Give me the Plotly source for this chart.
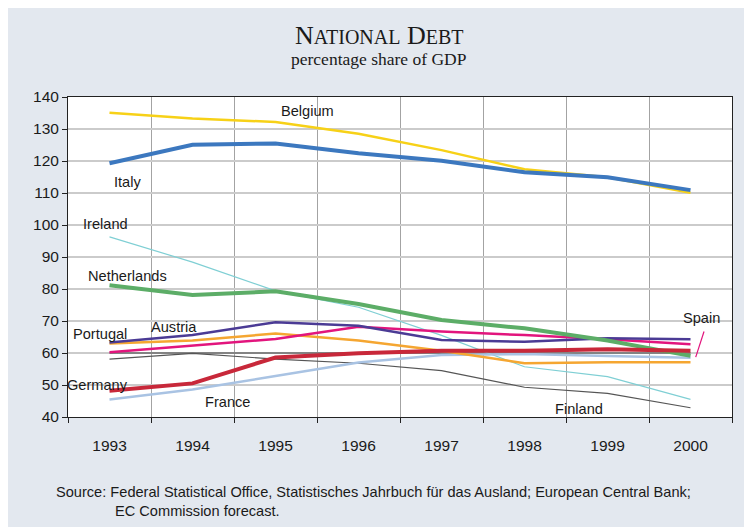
import plotly.graph_objects as go

years = ["1993", "1994", "1995", "1996", "1997", "1998", "1999", "2000"]
belgium = [135.1, 133.3, 132.2, 128.5, 123.4, 117.4, 114.9, 110.1]
italy = [119.3, 125.1, 125.5, 122.4, 120.1, 116.5, 114.9, 110.9]
ireland = [96.3, 88.4, 79.4, 74.3, 65.5, 55.7, 52.6, 45.5]
netherlands = [81.2, 78.1, 79.3, 75.3, 70.3, 67.7, 63.9, 59.1]
austria = [63.3, 65.6, 69.6, 68.5, 64.1, 63.5, 64.6, 64.3]
portugal = [63.0, 63.9, 66.1, 63.9, 60.7, 56.8, 57.1, 57.1]
spain = [60.2, 62.2, 64.4, 68.2, 66.7, 65.6, 64.3, 62.7]
germany = [48.2, 50.5, 58.6, 59.9, 60.7, 60.7, 61.2, 60.7]
france = [45.5, 48.6, 52.8, 57.0, 59.4, 59.7, 59.1, 58.5]
finland = [58.1, 59.9, 58.1, 56.8, 54.5, 49.3, 47.4, 42.9]
reference = [60, 60, 60, 60, 60, 60, 60, 60]

xi = list(range(len(years)))

series = [
    ("Reference", reference, "#3c3c3c", 1.2),
    ("Finland", finland, "#555555", 1.2),
    ("Ireland", ireland, "#7fcfd4", 1.2),
    ("France", france, "#a9c3e3", 2.5),
    ("Portugal", portugal, "#f5a631", 2.5),
    ("Spain", spain, "#e2157d", 2.5),
    ("Austria", austria, "#4b3b95", 2.5),
    ("Belgium", belgium, "#f7d117", 2.5),
    ("Netherlands", netherlands, "#5cad67", 4),
    ("Germany", germany, "#c8283a", 4),
    ("Italy", italy, "#3c78bf", 4),
]

fig = go.Figure()
for name, vals, col, w in series:
    fig.add_trace(go.Scatter(x=xi, y=vals, mode="lines", name=name,
                             line=dict(color=col, width=w), showlegend=False))

FONT = "Liberation Sans, Arial, sans-serif"
SERIF = "Liberation Serif, Times New Roman, serif"
labels = [
    ("Belgium", 2.38, 135.6),
    ("Italy", 0.22, 113.5),
    ("Ireland", -0.05, 100.3),
    ("Netherlands", 0.22, 84.2),
    ("Portugal", -0.12, 65.8),
    ("Austria", 0.78, 68.2),
    ("Germany", -0.14, 50.1),
    ("France", 1.42, 44.8),
    ("Finland", 5.66, 42.6),
    ("Spain", 7.13, 70.8),
]
ann = []
for t, x, y in labels:
    ann.append(dict(x=x, y=y, xref="x", yref="y", text=t, showarrow=False,
                    font=dict(family=FONT, size=14.6, color="#1a1a1a")))

ann.append(dict(x=(379 - 68) / 664, xref="paper", y=(417 - 36) / 320, yref="paper",
                text="N<span style='font-size:20px'>ATIONAL</span> D<span style='font-size:20px'>EBT</span>",
                showarrow=False, yanchor="middle",
                font=dict(family=SERIF, size=26, color="#1a1a1a")))
ann.append(dict(x=(379 - 68) / 664, xref="paper", y=(417 - 59) / 320, yref="paper",
                text="percentage share of GDP", showarrow=False, yanchor="middle",
                font=dict(family=SERIF, size=17.5, color="#1a1a1a")))
ann.append(dict(x=(54 - 68) / 664, xref="paper", y=(417 - 492) / 320, yref="paper",
                text="Source: Federal Statistical Office, Statistisches Jahrbuch für das Ausland; European Central Bank;",
                showarrow=False, xanchor="left", yanchor="middle",
                font=dict(family=FONT, size=14.6, color="#1a1a1a")))
ann.append(dict(x=(113 - 68) / 664, xref="paper", y=(417 - 511) / 320, yref="paper",
                text="EC Commission forecast.",
                showarrow=False, xanchor="left", yanchor="middle",
                font=dict(family=FONT, size=14.6, color="#1a1a1a")))

shapes = [
    dict(type="line", xref="x", yref="y", x0=7.163, x1=7.063, y0=66.7, y1=58.7,
         line=dict(color="#e2157d", width=1.2)),
]

fig.update_layout(
    width=752, height=527,
    margin=dict(l=60, r=28, t=89, b=118),
    paper_bgcolor="#e3e8ef",
    plot_bgcolor="white",
    annotations=ann,
    shapes=shapes,
    xaxis=dict(range=[-0.5, 7.5], tickmode="array", tickvals=xi, ticktext=years,
               ticks="outside", ticklen=14, tickcolor="rgba(0,0,0,0)",
               showgrid=False, zeroline=False,
               showline=True, linecolor="#222222", linewidth=1, mirror=True,
               tickfont=dict(family=FONT, size=15.5, color="#1a1a1a"),
               minor=dict(tick0=-0.5, dtick=1, ticks="outside", ticklen=5,
                          tickcolor="#222222", showgrid=True, gridcolor="#a3a3a3", gridwidth=1)),
    yaxis=dict(range=[40, 140], tickmode="array", tickvals=list(range(40, 141, 10)),
               ticks="outside", ticklen=5, tickcolor="#222222",
               showgrid=True, gridcolor="#cbcbcb", gridwidth=2, zeroline=False,
               showline=True, linecolor="#222222", linewidth=1, mirror=True,
               tickfont=dict(family=FONT, size=15.5, color="#1a1a1a")),
)

fig.write_html("out.html")
